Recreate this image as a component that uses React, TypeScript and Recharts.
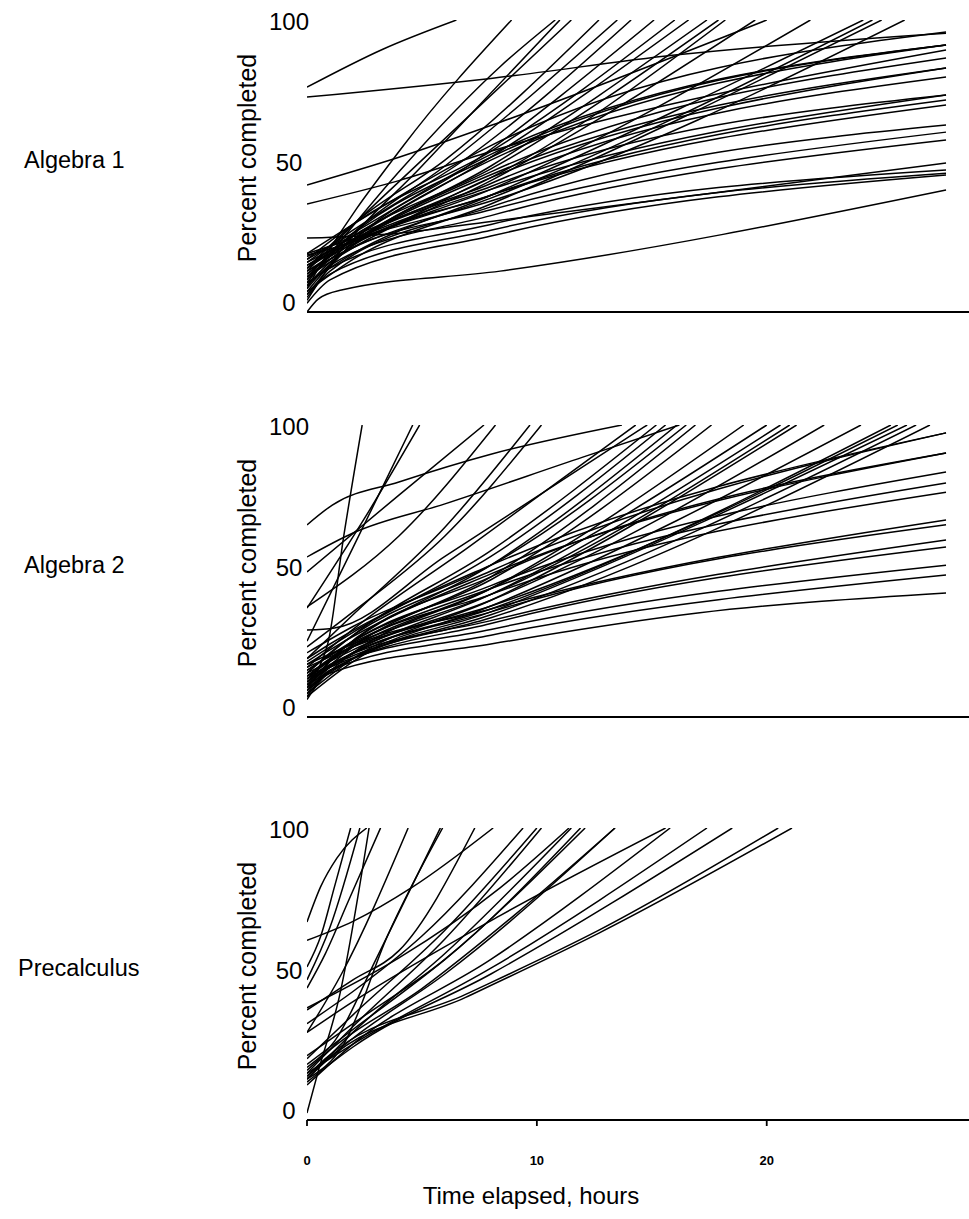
import { LineChart, Line, XAxis, YAxis } from "recharts";

// each curve: [hours elapsed, percent completed]
type Pt = [number, number];

const courseNames = ["Algebra 1", "Algebra 2", "Precalculus"];
const hourTicks = [0, 10, 20];
const percentTicks = [0, 50, 100];
const hourMax = 28.8;

const algebra1Curves: Pt[][] = [
  [[0, 0], [0.5, 4.5], [1.5, 7.5], [8.4, 14], [27.8, 41.8]],
  [[0, 3], [1, 11], [8, 26], [27.8, 46.9]],
  [[0, 6], [1, 13], [8, 28], [27.8, 47.5]],
  [[0, 10], [1, 15], [8, 30], [27.8, 48.6]],
  [[0, 25.3], [4, 27], [8, 31], [27.8, 51]],
  [[0, 8], [1, 16], [8, 33], [27.8, 58.9]],
  [[0, 12], [1, 18], [8, 35], [27.8, 61.6]],
  [[0, 5], [1, 14], [8, 36], [27.8, 64]],
  [[0, 14], [1, 19], [8, 40], [27.8, 70.9]],
  [[0, 9], [1, 17], [8, 40], [27.8, 72.6]],
  [[0, 17], [1, 21], [8, 42], [27.8, 74.3]],
  [[0, 11], [1, 18], [8, 43], [27.8, 74.3]],
  [[0, 7], [1, 16], [8, 44], [27.8, 80.5]],
  [[0, 19.5], [2, 24], [8, 46], [27.8, 83.6]],
  [[0, 15], [1, 20], [8, 47], [27.8, 83.6]],
  [[0, 13], [1, 19], [8, 48], [27.8, 87]],
  [[0, 37], [4, 45], [8.4, 56], [27.8, 89.7]],
  [[0, 16], [1, 21], [8, 52], [27.8, 91.4]],
  [[0, 12], [1, 20], [8, 53], [27.8, 91.4]],
  [[0, 18], [2, 27], [8, 54], [27.8, 91.4]],
  [[0, 73.6], [8, 80], [16, 88], [27.8, 95.5]],
  [[0, 20], [2, 30], [8, 57], [27.8, 95.9]],
  [[0, 77], [3.3, 90], [6.5, 100]],
  [[0, 8], [0.5, 15], [4.2, 57], [8.9, 100]],
  [[0, 10], [4, 48], [8.4, 84], [10.8, 100]],
  [[0, 4], [1, 16], [5, 50], [11, 100]],
  [[0, 14], [1, 22], [5, 52], [11.5, 100]],
  [[0, 43.5], [4, 53], [8.4, 65], [20, 100]],
  [[0, 15], [2, 30], [6, 52], [12.7, 100]],
  [[0, 11], [2, 27], [6, 50], [13.5, 100]],
  [[0, 17], [2, 28], [7, 53], [14.1, 100]],
  [[0, 6], [2, 24], [7, 50], [15.1, 100]],
  [[0, 18], [2, 30], [8, 55], [16, 100]],
  [[0, 13], [2, 25], [8, 53], [16.6, 100]],
  [[0, 9], [2, 23], [8, 50], [17.4, 100]],
  [[0, 15], [2, 26], [8, 49], [17.9, 100]],
  [[0, 19], [2, 26], [8, 46], [18.2, 100]],
  [[0, 12], [2, 22], [8, 45], [19.5, 100]],
  [[0, 16], [2, 24], [8, 42], [21.9, 100]],
  [[0, 10], [2, 20], [8, 40], [24.2, 100]],
  [[0, 14], [2, 22], [8, 39], [24.6, 100]],
  [[0, 7], [2, 18], [8, 37], [25, 100]],
  [[0, 20], [2, 25], [8, 38], [26, 100]],
];

const algebra2Curves: Pt[][] = [
  [[0, 6], [1, 15], [8, 25], [17, 35.6], [27.8, 42.5]],
  [[0, 8], [1, 16], [8, 28], [27.8, 48.6]],
  [[0, 10], [1, 17], [8, 30], [27.8, 52]],
  [[0, 7], [1, 16], [8, 32], [27.8, 58.2]],
  [[0, 12], [1, 18], [8, 33], [27.8, 60.6]],
  [[0, 9], [1, 17], [8, 36], [27.8, 65.8]],
  [[0, 14], [1, 20], [8, 37], [27.8, 67.5]],
  [[0, 11], [1, 19], [8, 42], [27.8, 77]],
  [[0, 16], [1, 21], [8, 44], [27.8, 80.1]],
  [[0, 13], [1, 20], [8, 45], [27.8, 83.9]],
  [[0, 18], [1, 23], [8, 49], [27.8, 90.4]],
  [[0, 10], [1, 19], [8, 48], [27.8, 90.4]],
  [[0, 20], [1, 25], [8, 52], [27.8, 97.3]],
  [[0, 15], [1, 22], [8, 50], [27.8, 97.3]],
  [[0, 12], [0.9, 25], [1.6, 62], [2.4, 100]],
  [[0, 37.3], [2.5, 68], [4.9, 100]],
  [[0, 26], [2, 58], [4.6, 100]],
  [[0, 49.7], [4, 76], [7.7, 100]],
  [[0, 37.7], [4, 62], [8.2, 100]],
  [[0, 65.8], [1.1, 72.6], [4, 80.5], [8, 90], [13.7, 100]],
  [[0, 54.8], [2, 63], [6, 73], [12, 89], [16.2, 100]],
  [[0, 29.8], [1.2, 30.5], [6, 55], [14.8, 100]],
  [[0, 20], [2, 35], [6, 65], [9.7, 100]],
  [[0, 24], [2, 36], [6, 62], [10.2, 100]],
  [[0, 17], [2, 30], [7, 58], [14.3, 100]],
  [[0, 15], [2, 28], [8, 57], [15.2, 100]],
  [[0, 19], [2, 29], [8, 55], [15.6, 100]],
  [[0, 13], [2, 26], [8, 52], [16.1, 100]],
  [[0, 22], [2, 31], [8, 52], [16.5, 100]],
  [[0, 11], [2, 24], [8, 48], [16.9, 100]],
  [[0, 16], [2, 26], [8, 47], [17.6, 100]],
  [[0, 9], [2, 22], [8, 44], [19, 100]],
  [[0, 14], [2, 24], [8, 44], [20, 100]],
  [[0, 12], [2, 22], [8, 42], [20.6, 100]],
  [[0, 18], [2, 25], [8, 42], [21, 100]],
  [[0, 8], [2, 20], [8, 40], [21.3, 100]],
  [[0, 15], [2, 23], [8, 40], [22.5, 100]],
  [[0, 10], [2, 20], [8, 38], [24.1, 100]],
  [[0, 13], [2, 22], [8, 37], [25.4, 100]],
  [[0, 17], [2, 24], [8, 38], [25.7, 100]],
  [[0, 7], [2, 19], [8, 36], [26.1, 100]],
  [[0, 11], [2, 20], [8, 35], [26.5, 100]],
  [[0, 14], [2, 21], [8, 34], [27.1, 100]],
];

const precalcCurves: Pt[][] = [
  [[0, 67.8], [0.6, 80], [1.3, 89.7], [2.6, 100]],
  [[0, 61.5], [2, 68], [4.6, 79.8], [8.1, 100]],
  [[0, 52.4], [0.6, 63], [1.2, 80], [1.9, 100]],
  [[0, 45.2], [0.8, 57], [1.8, 75], [3.2, 100]],
  [[0, 2.4], [0.5, 17], [1.4, 42], [2.7, 100]],
  [[0, 48], [1, 66], [2.3, 100]],
  [[0, 30], [1.5, 50], [4.4, 100]],
  [[0, 14], [1.6, 26], [3.5, 63], [5.9, 100]],
  [[0, 18], [1.2, 27], [3, 55], [5.8, 100]],
  [[0, 37.7], [2, 48], [4, 58], [7.3, 100]],
  [[0, 33], [2, 44], [5, 63], [9.4, 100]],
  [[0, 21], [2, 36], [6, 65], [10, 100]],
  [[0, 16], [2, 32], [6, 62], [10.2, 100]],
  [[0, 38.4], [4, 55.5], [8.4, 79.5], [11.4, 100]],
  [[0, 14], [2, 30], [6, 57], [11.5, 100]],
  [[0, 22], [2, 33], [6, 55], [11.9, 100]],
  [[0, 19], [2, 31], [6, 55], [12.1, 100]],
  [[0, 15], [2, 28], [6, 50], [13.4, 100]],
  [[0, 30], [1.9, 40], [8.4, 70], [15.6, 100]],
  [[0, 12], [2, 26], [8, 55], [15.8, 100]],
  [[0, 16], [2, 26], [8, 52], [17.4, 100]],
  [[0, 13], [2, 25], [8, 50], [18.5, 100]],
  [[0, 15], [0.8, 21], [6.9, 43], [12.7, 65], [20.5, 100]],
  [[0, 14], [0.8, 20], [6.9, 42], [12.7, 64], [21.1, 100]],
  [[0, 17], [1, 24], [5, 45], [9, 70], [13.4, 100]],
];

const panelCurves = [algebra1Curves, algebra2Curves, precalcCurves];

const font = '"Liberation Sans", Arial, Helvetica, sans-serif';
const plotLeft = 307;
const plotH = 292;
const plotTops = [20, 425, 828];
const labelLefts = [24, 24, 18];

// tick labels in the scan sit a little off their gridline
const YTick = ({ y, payload }: any) => {
  const nudge = payload.value === 0 ? -10 : payload.value === 50 ? -4 : 1;
  return (
    <text
      x={289}
      y={y + nudge}
      textAnchor="middle"
      dominantBaseline="central"
      fontSize={24}
      fontFamily={font}
      fill="#000"
    >
      {payload.value}
    </text>
  );
};

function Panel({ curves, top, last }: { curves: Pt[][]; top: number; last: boolean }) {
  const mTop = 20;
  const axisH = last ? 60 : 20;
  return (
    <div style={{ position: "absolute", left: 0, top: top - mTop }}>
      <LineChart
        width={969}
        height={mTop + plotH + axisH}
        margin={{ top: mTop, right: 0, bottom: 0, left: 0 }}
      >
        <XAxis
          type="number"
          dataKey="t"
          domain={[0, hourMax]}
          ticks={hourTicks}
          allowDataOverflow
          height={axisH}
          stroke="#000"
          strokeWidth={1.8}
          tickSize={6}
          tickMargin={30}
          tick={
            last
              ? { fontSize: 13, fontWeight: 600, fill: "#000", fontFamily: font }
              : false
          }
        />
        <YAxis
          type="number"
          domain={[0, 100]}
          ticks={percentTicks}
          width={plotLeft}
          axisLine={false}
          tickLine={false}
          tick={<YTick />}
          allowDataOverflow
        />
        {curves.map((c, i) => (
          <Line
            key={i}
            data={c.map(([t, p]) => ({ t, p }))}
            dataKey="p"
            type="monotone"
            stroke="#000"
            strokeWidth={1.5}
            dot={false}
            activeDot={false}
            isAnimationActive={false}
          />
        ))}
      </LineChart>
    </div>
  );
}

export default function App() {
  return (
    <div
      style={{
        position: "absolute",
        left: 0,
        top: 0,
        width: 969,
        height: 1219,
        overflow: "hidden",
        background: "#fff",
        fontFamily: font,
        color: "#000",
      }}
    >
      {panelCurves.map((curves, i) => (
        <Panel key={i} curves={curves} top={plotTops[i]} last={i === 2} />
      ))}
      {courseNames.map((name, i) => (
        <div
          key={name}
          style={{
            position: "absolute",
            left: labelLefts[i],
            top: plotTops[i] + plotH / 2 - 6 - 15,
            height: 30,
            lineHeight: "30px",
            fontSize: 23.5,
            whiteSpace: "nowrap",
          }}
        >
          {name}
        </div>
      ))}
      {plotTops.map((t, i) => (
        <div
          key={i}
          style={{
            position: "absolute",
            left: 247 - 150,
            top: t + plotH / 2 - 8 - 15,
            width: 300,
            height: 30,
            lineHeight: "30px",
            textAlign: "center",
            fontSize: 25,
            transform: "rotate(-90deg)",
            whiteSpace: "nowrap",
          }}
        >
          Percent completed
        </div>
      ))}
      <div
        style={{
          position: "absolute",
          left: 531 - 200,
          top: 1196 - 15,
          width: 400,
          height: 30,
          lineHeight: "30px",
          textAlign: "center",
          fontSize: 24,
          whiteSpace: "nowrap",
        }}
      >
        Time elapsed, hours
      </div>
    </div>
  );
}
